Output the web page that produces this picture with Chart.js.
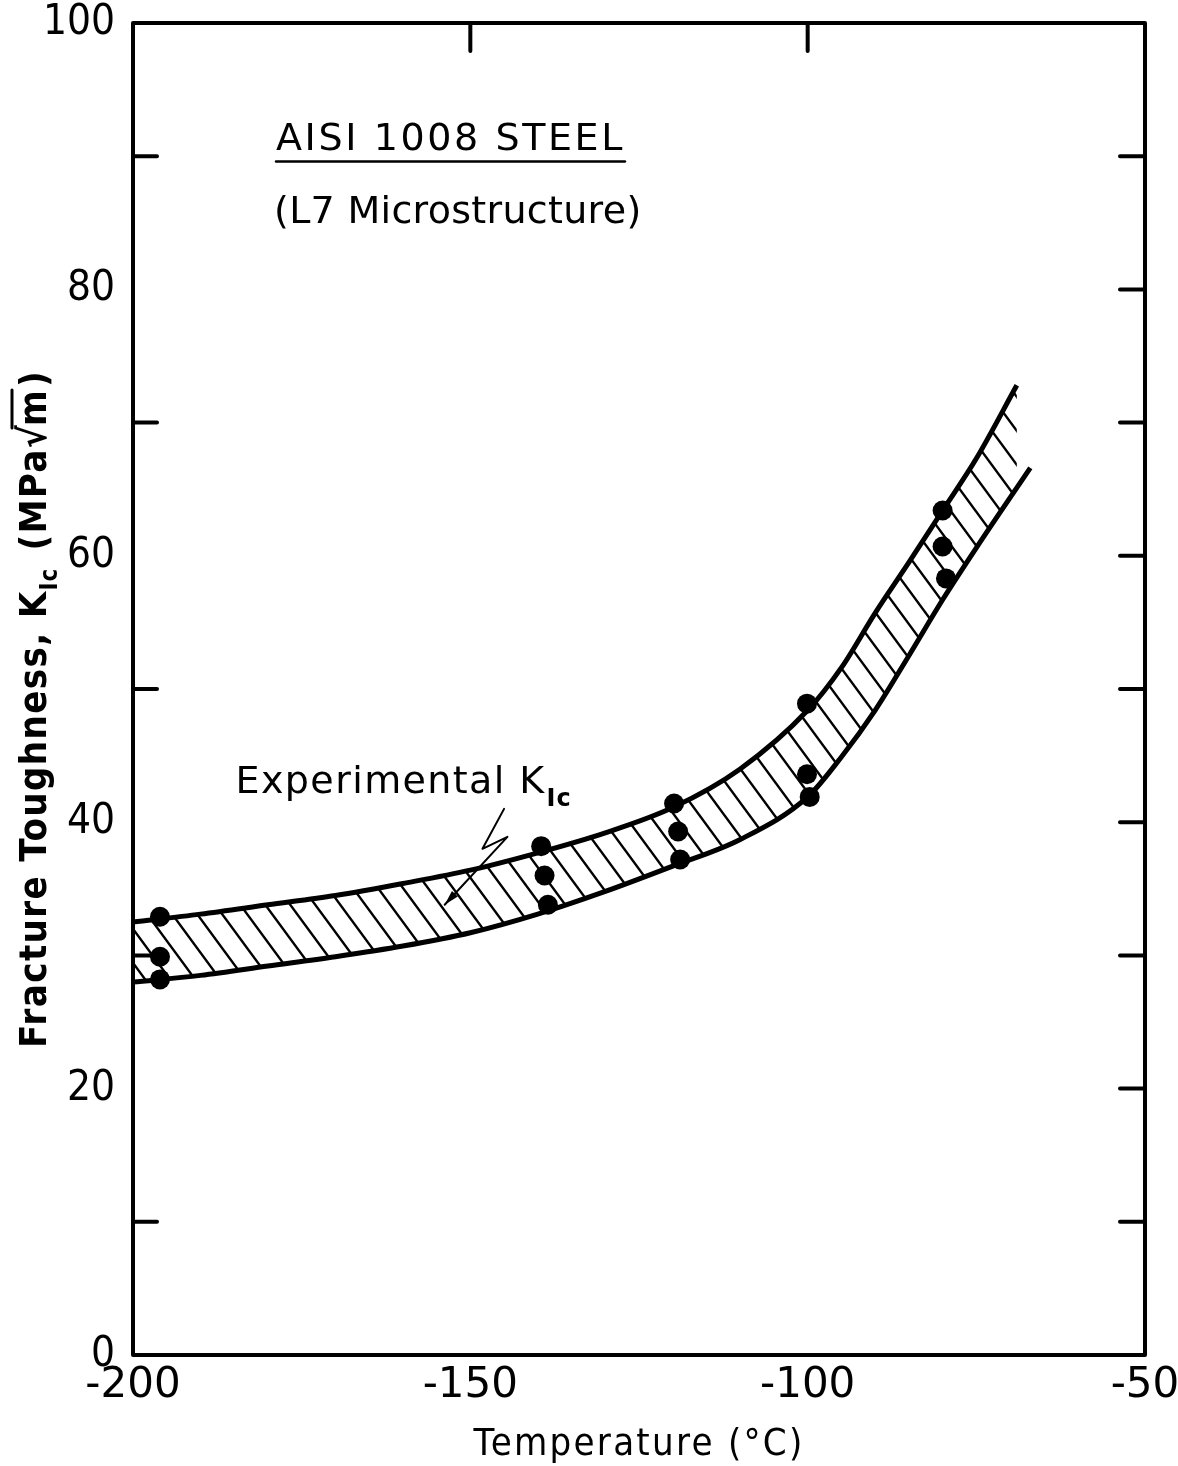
<!DOCTYPE html>
<html>
<head>
<meta charset="utf-8">
<title>Fracture toughness of AISI 1008 steel</title>
<script src="https://cdn.jsdelivr.net/npm/chart.js@4.4.0/dist/chart.umd.min.js"></script>
<style>
  html, body { margin: 0; padding: 0; background: #fff; }
  canvas { display: block; }
</style>
</head>
<body>
<canvas id="kicChart" width="1178" height="1466"></canvas>
<script>
// measured K_Ic, three specimens per test temperature
const testTemps = [-196, -196, -196, -139.5, -139, -138.5, -119.8, -119.2, -118.9, -100.1, -100.1, -99.7, -80, -80, -79.5];
const testKic   = [32.9, 29.9, 28.2, 38.2, 36.0, 33.8, 41.4, 39.3, 37.2, 48.9, 43.6, 41.9, 63.4, 60.7, 58.3];

// upper and lower edges of the scatter band
const upperTemps = [-200, -190, -180, -170, -160, -150, -140, -130, -120, -110, -100, -95, -90, -85, -80, -75, -69];
const upperKic   = [32.5, 33.1, 33.8, 34.5, 35.4, 36.4, 37.7, 39.2, 41.1, 44.0, 48.4, 51.6, 55.7, 59.5, 63.4, 67.3, 72.8];
const lowerTemps = [-200, -190, -180, -170, -160, -150, -140, -130, -120, -110, -100, -95, -90, -85, -80, -75, -67];
const lowerKic   = [28.0, 28.5, 29.2, 29.9, 30.7, 31.7, 33.1, 34.8, 36.7, 38.7, 41.9, 44.9, 48.4, 52.5, 56.7, 60.6, 66.6];

// axis ticks
const xTicks = [-200, -150, -100, -50];
const yTicks = [0, 20, 40, 60, 80, 100];
const topMarks = [-150, -100];
const leftMarks = [10, 30, 50, 70, 90];
const rightMarks = [10, 20, 30, 40, 50, 60, 70, 80, 90];

const FONT = "'DejaVu Sans', 'Liberation Sans', sans-serif";
const TICK_FONT = "'DejaVu Sans Condensed', 'DejaVu Sans', sans-serif";

function toXY(xs, ys) {
  return xs.map((v, i) => ({ x: v, y: ys[i] }));
}

// diagonal "\" hatching for the band
function hatchPattern() {
  const w = 25, h = 34;
  const c = document.createElement('canvas');
  c.width = w; c.height = h;
  const g = c.getContext('2d');
  g.strokeStyle = '#000';
  g.lineWidth = 2.4;
  g.beginPath();
  [[0, 0], [-w, 0], [w, 0], [0, -h], [0, h]].forEach(([dx, dy]) => {
    g.moveTo(dx, dy);
    g.lineTo(dx + w, dy + h);
  });
  g.stroke();
  return g.createPattern(c, 'repeat');
}

// draws text with extra tracking and a horizontal stretch, returns its width
function drawSpaced(ctx, str, px, py, font, spacing, stretch) {
  ctx.save();
  ctx.font = font;
  ctx.letterSpacing = spacing + 'px';
  ctx.translate(px, py);
  ctx.scale(stretch, 1);
  ctx.fillText(str, 0, 0);
  const w = ctx.measureText(str).width * stretch;
  ctx.restore();
  return w;
}

function measureSpaced(ctx, str, font, spacing, stretch) {
  ctx.save();
  ctx.font = font;
  ctx.letterSpacing = spacing + 'px';
  const w = ctx.measureText(str).width * stretch;
  ctx.restore();
  return w;
}

const frameAndNotes = {
  id: 'frameAndNotes',
  afterDatasetsDraw(chart) {
    const { ctx, chartArea: a, scales: { x, y } } = chart;
    ctx.save();
    ctx.strokeStyle = '#000';
    ctx.fillStyle = '#000';
    ctx.lineCap = 'round';
    ctx.lineJoin = 'round';

    // frame and inward tick marks
    ctx.lineWidth = 4;
    ctx.strokeRect(a.left, a.top, a.right - a.left, a.bottom - a.top);
    ctx.beginPath();
    leftMarks.forEach(v => {
      const py = y.getPixelForValue(v);
      ctx.moveTo(a.left, py); ctx.lineTo(a.left + 24, py);
    });
    rightMarks.forEach(v => {
      const py = y.getPixelForValue(v);
      ctx.moveTo(a.right, py); ctx.lineTo(a.right - 25, py);
    });
    topMarks.forEach(v => {
      const px = x.getPixelForValue(v);
      ctx.moveTo(px, a.top); ctx.lineTo(px, a.top + 28);
    });
    ctx.stroke();

    ctx.textBaseline = 'alphabetic';
    ctx.textAlign = 'left';

    // material heading
    const hx = x.getPixelForValue(-178.8);
    const hy = y.getPixelForValue(90.5);
    const hw = drawSpaced(ctx, 'AISI 1008 STEEL', hx, hy, `38px ${FONT}`, 2.6, 1);
    ctx.lineWidth = 2.5;
    ctx.beginPath();
    const uy = y.getPixelForValue(89.6);
    ctx.moveTo(hx, uy); ctx.lineTo(hx + hw, uy);
    ctx.stroke();
    drawSpaced(ctx, '(L7 Microstructure)', x.getPixelForValue(-179.1), y.getPixelForValue(85.0),
      `38px ${FONT}`, 0.3, 1);

    // band label with subscript
    const ex = x.getPixelForValue(-184.8);
    const ey = y.getPixelForValue(42.2);
    const ew = drawSpaced(ctx, 'Experimental K', ex, ey, `38px ${FONT}`, 1.4, 1);
    drawSpaced(ctx, 'Ic', ex + ew + 1, ey + 13, `bold 24px ${FONT}`, 1, 1);

    // zigzag leader into the band
    const lead = [[-145.0, 41.0], [-148.2, 38.0], [-144.5, 38.9], [-153.8, 33.8]]
      .map(([t, k]) => [x.getPixelForValue(t), y.getPixelForValue(k)]);
    ctx.lineWidth = 2;
    ctx.beginPath();
    ctx.moveTo(lead[0][0], lead[0][1]);
    for (let i = 1; i < lead.length; i++) ctx.lineTo(lead[i][0], lead[i][1]);
    ctx.stroke();
    const [tx, ty] = lead[3];
    const ang = Math.atan2(ty - lead[2][1], tx - lead[2][0]);
    ctx.beginPath();
    ctx.moveTo(tx, ty);
    ctx.lineTo(tx - 15 * Math.cos(ang) + 4 * Math.sin(ang), ty - 15 * Math.sin(ang) - 4 * Math.cos(ang));
    ctx.lineTo(tx - 15 * Math.cos(ang) - 4 * Math.sin(ang), ty - 15 * Math.sin(ang) + 4 * Math.cos(ang));
    ctx.closePath();
    ctx.fill();

    // x axis title
    const xt = 'Temperature (°C)';
    const xf = `38px ${FONT}`;
    const xw = measureSpaced(ctx, xt, xf, 2.5, 0.9);
    drawSpaced(ctx, xt, (a.left + a.right) / 2 - xw / 2, 1455, xf, 2.5, 0.9);

    // y axis title, rotated, with K_Ic subscript and sqrt(m)
    const yf = `bold 38px ${FONT}`;
    const sf = `bold 24px ${FONT}`;
    const p1 = 'Fracture Toughness, K';
    const p2 = 'Ic';
    const p3 = ' (MPa√';
    const p4 = 'm';
    const p5 = ')';
    const sp = 1.5, st = 0.9;
    const w1 = measureSpaced(ctx, p1, yf, sp, st);
    const w2 = measureSpaced(ctx, p2, sf, 1, st);
    const w3 = measureSpaced(ctx, p3, yf, sp, st);
    const w4 = measureSpaced(ctx, p4, yf, sp, st);
    const w5 = measureSpaced(ctx, p5, yf, sp, st);
    const total = w1 + w2 + 4 + w3 + w4 + w5;
    ctx.save();
    ctx.translate(46, (a.top + a.bottom) / 2 + 20);
    ctx.rotate(-Math.PI / 2);
    let cx = -total / 2;
    drawSpaced(ctx, p1, cx, 0, yf, sp, st); cx += w1;
    drawSpaced(ctx, p2, cx, 11, sf, 1, st); cx += w2 + 4;
    drawSpaced(ctx, p3, cx, 0, yf, sp, st); cx += w3;
    drawSpaced(ctx, p4, cx - 2, 0, yf, sp, st);
    ctx.lineWidth = 3;
    ctx.beginPath();
    ctx.moveTo(cx - 4, -34); ctx.lineTo(cx + w4 - 3, -34);
    ctx.stroke();
    cx += w4;
    drawSpaced(ctx, p5, cx, 0, yf, sp, st);
    ctx.restore();

    ctx.restore();
  }
};

const chart = new Chart(document.getElementById('kicChart'), {
  type: 'scatter',
  data: {
    datasets: [
      {
        label: 'K_Ic tests',
        data: toXY(testTemps, testKic),
        pointRadius: 10,
        pointBackgroundColor: '#000',
        pointBorderWidth: 0,
        order: 0
      },
      {
        label: 'band upper',
        data: toXY(upperTemps, upperKic),
        showLine: true,
        borderColor: '#000',
        borderWidth: 5,
        pointRadius: 0,
        cubicInterpolationMode: 'monotone',
        fill: false,
        order: 1
      },
      {
        label: 'band lower',
        data: toXY(lowerTemps, lowerKic),
        showLine: true,
        borderColor: '#000',
        borderWidth: 5,
        pointRadius: 0,
        cubicInterpolationMode: 'monotone',
        fill: '-1',
        backgroundColor: hatchPattern(),
        order: 1
      }
    ]
  },
  options: {
    responsive: false,
    animation: false,
    devicePixelRatio: 1,
    layout: { padding: { top: 23, right: 33, left: 0, bottom: 0 } },
    plugins: {
      legend: { display: false },
      tooltip: { enabled: false },
      filler: { drawTime: 'beforeDatasetsDraw' }
    },
    scales: {
      x: {
        type: 'linear',
        min: -200,
        max: -50,
        grid: { display: false, drawTicks: false },
        border: { display: false },
        afterBuildTicks: s => { s.ticks = xTicks.map(v => ({ value: v })); },
        afterFit: s => { s.height = 111; s.paddingLeft = 0; s.paddingRight = 0; },
        ticks: {
          font: { family: FONT, size: 42 },
          color: '#000',
          padding: 6,
          maxRotation: 0,
          autoSkip: false
        }
      },
      y: {
        min: 0,
        max: 100,
        grid: { display: false, drawTicks: false },
        border: { display: false },
        afterBuildTicks: s => { s.ticks = yTicks.map(v => ({ value: v })); },
        afterFit: s => { s.width = 133; s.paddingTop = 0; s.paddingBottom = 0; },
        ticks: {
          font: { family: TICK_FONT, size: 42 },
          color: '#000',
          padding: 18,
          autoSkip: false
        }
      }
    }
  },
  plugins: [frameAndNotes]
});
</script>
</body>
</html>
